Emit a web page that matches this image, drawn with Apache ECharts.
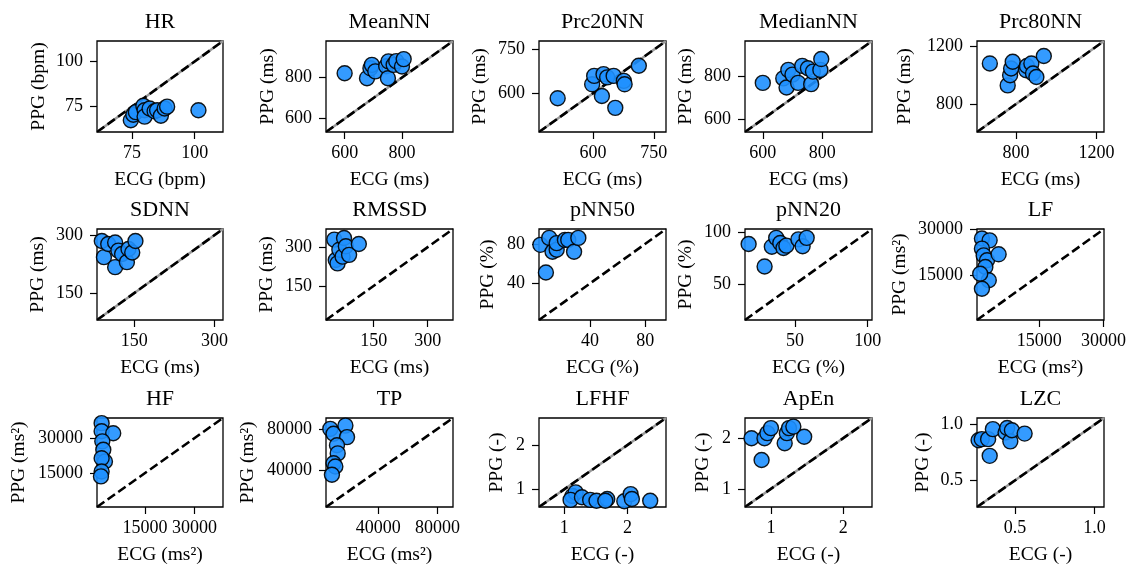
<!DOCTYPE html>
<html><head><meta charset="utf-8">
<script src="https://cdn.jsdelivr.net/npm/echarts@6/dist/echarts.min.js"></script>
<style>html,body{margin:0;padding:0;background:#fff}#c{width:1129px;height:566px}</style>
</head><body><div id="c"></div>
<script>
// ---------- data ----------
const titles = ['HR','MeanNN','Prc20NN','MedianNN','Prc80NN','SDNN','RMSSD','pNN50','pNN20','LF','HF','TP','LFHF','ApEn','LZC'];
const units = ['bpm','ms','ms','ms','ms','ms','ms','%','%','ms²','ms²','ms²','-','-','-'];
const axisMin = [61, 535, 467, 540, 605, 80, 18, 3, 15.5, 450, 500, 4800, 0.6, 0.64, 0.26];
const axisMax = [111.3, 978, 780, 968, 1238, 316, 370, 95, 103, 30100, 38600, 90500, 2.61, 2.4, 1.06];
const tickValues = [[75,100],[600,800],[600,750],[600,800],[800,1200],[150,300],[150,300],[40,80],[50,100],[15000,30000],[15000,30000],[40000,80000],[1,2],[1,2],[0.5,1.0]];
const tickLabels = [['75','100'],['600','800'],['600','750'],['600','800'],['800','1200'],['150','300'],['150','300'],['40','80'],['50','100'],['15000','30000'],['15000','30000'],['40000','80000'],['1','2'],['1','2'],['0.5','1.0']];

const hrData = [[74.5,67.5],[75.5,70.5],[76.5,72],[79.5,75.5],[80,73],[80,69.5],[82,74],[84,72.5],[85,73],[86.5,70],[88,74],[89,75],[101.5,73]];
const meanNNData = [[600,821],[678,797],[690,845],[695,862],[707,830],[745,855],[751,797],[753,879],[771,862],[780,880],[800,854],[806,890]];
const prc20NNData = [[513,583],[598,631],[603,660],[622,591],[626,666],[635,655],[651,660],[655,550],[676,643],[678,631],[713,695]];
const medianNNData = [[600,771],[669,792],[680,749],[686,832],[700,810],[719,771],[733,851],[752,840],[763,765],[769,824],[794,832],[797,883]];
const prc80NNData = [[669,1082],[758,929],[770,1000],[775,1047],[783,1094],[850,1035],[854,1064],[876,1082],[884,1012],[901,988],[938,1134]];
const sdnnData = [[89,285],[93,243],[101,277],[114,281],[114,217],[120,260],[127,251],[136,230],[139,264],[146,255],[152,285]];
const rmssdData = [[41,329],[45,250],[50,237],[55,290],[64,263],[68,335],[73,303],[82,270],[109,312]];
const pnn50Data = [[4,79],[8,51],[10.4,86],[12.8,72],[15.8,74],[15.8,80.7],[21.8,84],[24.2,84],[28.4,72],[31.5,86]];
const pnn20Data = [[18,88.6],[29,67],[34,86],[37,94.5],[39.8,89.6],[42,84.7],[44,87],[52.3,93],[55.2,86.4],[58,94.5]];
const lfData = [[1600,27000],[3400,26400],[1600,23700],[2000,21500],[2800,19900],[2400,17700],[5500,21850],[3200,13400],[1200,15500],[1600,10650]];
const hfData = [[1900,36400],[1900,32900],[5400,32100],[2100,28600],[2400,25000],[2900,20000],[1900,21400],[1900,15700],[1700,13600]];
const tpData = [[7700,80000],[9900,75300],[17900,83200],[19000,72100],[12200,64300],[12700,56400],[9900,46900],[11100,43800],[8800,35900]];
const lfhfData = [[1.13,0.85],[1.18,0.93],[1.1,0.76],[1.28,0.82],[1.41,0.76],[1.51,0.74],[1.68,0.78],[1.65,0.74],[1.95,0.73],[2.05,0.89],[2.07,0.78],[2.36,0.74]];
const apenData = [[0.73,2.0],[0.87,1.57],[0.91,2.0],[0.95,2.1],[1.0,2.2],[1.19,1.9],[1.22,2.1],[1.25,2.2],[1.31,2.23],[1.46,2.03]];
const lzcData = [[0.27,0.86],[0.29,0.87],[0.33,0.87],[0.34,0.72],[0.36,0.96],[0.44,0.93],[0.45,0.97],[0.47,0.85],[0.48,0.95],[0.56,0.92]];

const panelData = [hrData, meanNNData, prc20NNData, medianNNData, prc80NNData, sdnnData, rmssdData, pnn50Data, pnn20Data, lfData, hfData, tpData, lfhfData, apenData, lzcData];
const grayDiag = [1,1,1,1,1,1,0,0,0,0,0,0,1,1,1];

// ---------- layout ----------
const colLeft = [97, 326, 539, 745, 977];
const colWidth = [126, 127, 127, 127, 127];
const rowTop = [41, 229, 418];
const rowHeight = [91, 91, 89];
const yNameCenter = [58, 58, 59, 59, 72, 59, 59, 51, 59, 77, 78, 78, 42, 42, 54];
const FONT = 'Liberation Serif';

const grid = [], xAxis = [], yAxis = [], series = [], title = [];
for (let i = 0; i < 15; i++) {
  const r = Math.floor(i / 5), c = i % 5;
  const left = colLeft[c], top = rowTop[r], w = colWidth[c], h = rowHeight[r];
  grid.push({ left, top, width: w, height: h, show: true, borderColor: '#000', borderWidth: 1.3, backgroundColor: 'transparent', outerBoundsMode: 'none' });
  title.push({ text: titles[i], left: left + w / 2, top: top - 30, textAlign: 'center', padding: 0,
    textStyle: { fontFamily: FONT, fontSize: 22, fontWeight: 'normal', color: '#000' } });
  const labels = tickLabels[i], vals = tickValues[i];
  const fmt = v => { const k = vals.findIndex(t => Math.abs(t - v) < 1e-9); return k >= 0 ? labels[k] : ''; };
  const common = (name, gap, margin) => ({
    type: 'value', gridIndex: i, min: axisMin[i], max: axisMax[i],
    name, nameLocation: 'middle', nameGap: gap,
    nameTextStyle: { fontFamily: FONT, fontSize: 19.5, color: '#000' },
    axisLine: { show: false },
    splitLine: { show: false },
    axisTick: { show: true, length: 7, customValues: vals, lineStyle: { color: '#000', width: 1.2 } },
    axisLabel: { show: true, customValues: vals, formatter: fmt, margin, fontFamily: FONT, fontSize: 18, color: '#000' }
  });
  xAxis.push(common('ECG (' + units[i] + ')', 38, 12));
  yAxis.push(common('PPG (' + units[i] + ')', yNameCenter[i] - 10, 14));
  const diag = [[axisMin[i], axisMin[i]], [axisMax[i], axisMax[i]]];
  if (grayDiag[i]) {
    series.push({ type: 'line', xAxisIndex: i, yAxisIndex: i, data: diag, symbol: 'none', silent: true,
      lineStyle: { color: '#9a9a9a', width: 2.5, type: 'solid' }, z: 1 });
  }
  series.push({ type: 'line', xAxisIndex: i, yAxisIndex: i, data: diag, symbol: 'none', silent: true,
    lineStyle: { color: '#000', width: 2.6, type: [9, 4] }, z: 2 });
  series.push({ type: 'scatter', xAxisIndex: i, yAxisIndex: i, data: panelData[i], symbolSize: 15, z: 3,
    itemStyle: { color: '#1E90FF', borderColor: '#000', borderWidth: 1.4, opacity: 0.9 } });
}

const chart = echarts.init(document.getElementById('c'), null, { renderer: 'canvas' });
chart.setOption({ animation: false, backgroundColor: '#fff', title, grid, xAxis, yAxis, series });
</script>
</body></html>
